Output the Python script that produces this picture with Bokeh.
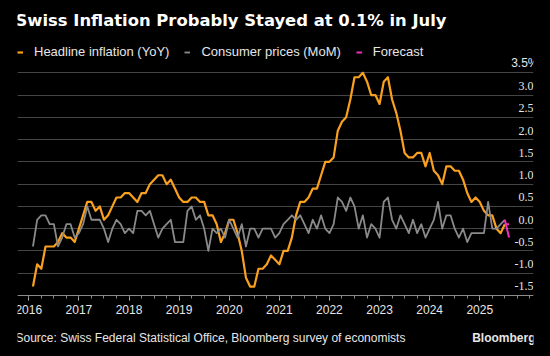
import pandas as pd
from bokeh.plotting import figure
from bokeh.models import (Range1d, FixedTicker, Grid, Legend, LegendItem,
                          ColumnDataSource, LabelSet, Label)
from bokeh.embed import file_html
from bokeh.resources import INLINE

# ---------------- data ----------------
title_text = "Swiss Inflation Probably Stayed at 0.1% in July"
source_text = "Source: Swiss Federal Statistical Office, Bloomberg survey of economists"
brand_text = "Bloomberg"

months = pd.period_range("2016-01", "2025-06", freq="M")

# Headline inflation, YoY %
yoy = [
    -1.3, -0.8, -0.9, -0.4, -0.4, -0.4, -0.3, -0.1, -0.2, -0.2, -0.3, 0.0,   # 2016
    0.3, 0.6, 0.6, 0.4, 0.5, 0.2, 0.3, 0.5, 0.7, 0.7, 0.8, 0.8,              # 2017
    0.7, 0.6, 0.8, 0.8, 1.0, 1.1, 1.2, 1.2, 1.0, 1.1, 0.9, 0.7,              # 2018
    0.6, 0.6, 0.7, 0.7, 0.6, 0.6, 0.3, 0.3, 0.1, -0.3, -0.1, 0.2,            # 2019
    0.2, -0.1, -0.5, -1.1, -1.3, -1.3, -0.9, -0.9, -0.8, -0.6, -0.7, -0.8,   # 2020
    -0.5, -0.5, -0.2, 0.3, 0.6, 0.6, 0.7, 0.9, 0.9, 1.2, 1.5, 1.5,           # 2021
    1.6, 2.2, 2.4, 2.5, 2.9, 3.4, 3.4, 3.5, 3.3, 3.0, 3.0, 2.8,              # 2022
    3.3, 3.4, 2.9, 2.6, 2.2, 1.7, 1.6, 1.6, 1.7, 1.7, 1.4, 1.7,              # 2023
    1.3, 1.2, 1.0, 1.4, 1.4, 1.3, 1.3, 1.1, 0.8, 0.6, 0.7, 0.6,              # 2024
    0.4, 0.3, 0.3, 0.0, -0.1, 0.1,                                           # 2025
]

# Consumer prices, MoM %
mom = [
    -0.4, 0.2, 0.3, 0.3, 0.1, 0.1, -0.4, -0.2, 0.1, 0.1, -0.2, -0.1,         # 2016
    0.1, 0.5, 0.2, 0.2, 0.2, 0.0, -0.3, 0.0, 0.2, 0.1, -0.1, 0.0,            # 2017
    -0.1, 0.4, 0.4, 0.3, 0.4, 0.1, -0.2, 0.0, 0.1, 0.2, -0.3, -0.3,          # 2018
    -0.3, 0.4, 0.5, 0.2, 0.3, 0.0, -0.5, 0.0, -0.1, 0.0, -0.2, 0.2,          # 2019
    0.0, -0.2, 0.1, -0.4, 0.0, 0.0, -0.2, 0.0, 0.0, 0.0, -0.2, -0.1,         # 2020
    0.1, 0.2, 0.3, 0.2, 0.3, 0.1, -0.1, 0.2, 0.0, 0.3, 0.0, -0.1,            # 2021
    0.1, 0.7, 0.6, 0.4, 0.7, 0.5, 0.0, 0.3, -0.2, 0.1, 0.0, -0.2,            # 2022
    0.6, 0.7, 0.2, 0.0, 0.3, 0.1, -0.1, 0.2, -0.1, 0.1, -0.2, 0.0,           # 2023
    0.2, 0.6, 0.0, 0.3, 0.3, 0.0, -0.2, 0.0, -0.3, -0.1, -0.1, -0.1,         # 2024
    -0.1, 0.6, 0.0, 0.0, 0.1, 0.2,                                           # 2025
]

forecast_months = pd.period_range("2025-06", "2025-07", freq="M")
forecast_yoy = [0.1, 0.1]
forecast_mom = [0.2, -0.2]

year_ticks = list(range(2016, 2026))
y_ticks = [-1.5, -1.0, -0.5, 0.0, 0.5, 1.0, 1.5, 2.0, 2.5, 3.0, 3.5]
y_tick_labels = ["-1.5", "-1.0", "-0.5", "0.0", "0.5", "1.0", "1.5", "2.0", "2.5", "3.0", "3.5%"]

legend_labels = ["Headline inflation (YoY)", "Consumer prices (MoM)", "Forecast"]

# ---------------- styling ----------------
BG = "#000000"
ORANGE = "#F9A01E"
GRAY = "#8A8A8A"
PINK = "#F02FC2"
GRID = "#444444"
TXT = "#E6E6E6"
FONT = "Liberation Sans"
W, H = 550, 356
BORDER_X = 17


def to_x(periods):
    # monthly observations plotted at month end, as decimal years
    return [per.year + per.month / 12 for per in periods]


x_main = to_x(months)
x_fc = to_x(forecast_months)

X0, X1 = 2015.7745, 2026.072
Y0, Y1 = -2.870, 5.123
px_per_unit = H / (Y1 - Y0)

p = figure(width=W, height=H, output_backend="svg", toolbar_location=None,
           title=None, x_range=Range1d(X0, X1), y_range=Range1d(Y0, Y1),
           y_axis_location=None, background_fill_color=BG,
           border_fill_color=BG, outline_line_color=None,
           min_border_left=BORDER_X, min_border_right=BORDER_X,
           min_border_top=0, min_border_bottom=0)

# grid (horizontal only)
for g in p.xgrid:
    g.visible = False
for g in p.ygrid:
    g.visible = False
p.add_layout(Grid(dimension=1, ticker=FixedTicker(ticks=y_ticks),
                  grid_line_color=GRID, grid_line_width=1))

# x axis, pinned to the bottom gridline
minor = [y + q / 4 for y in range(2015, 2027) for q in range(4)]
ax = p.xaxis[0]
ax.fixed_location = y_ticks[0]
ax.ticker = FixedTicker(ticks=year_ticks, minor_ticks=minor)
ax.axis_line_color = "#8a8a8a"
ax.major_tick_line_color = "#bbbbbb"
ax.minor_tick_line_color = "#8a8a8a"
ax.major_tick_in = 0
ax.major_tick_out = 5
ax.minor_tick_in = 0
ax.minor_tick_out = 3
ax.major_label_standoff = 5
ax.major_label_text_color = TXT
ax.major_label_text_font = FONT
ax.major_label_text_font_size = "12px"

# lines
r_yoy = p.line(x_main, yoy, line_color=ORANGE, line_width=2.2, line_join="round")
r_mom = p.line(x_main, mom, line_color=GRAY, line_width=1.8, line_join="round")
r_fc1 = p.line(x_fc, forecast_yoy, line_color=PINK, line_width=2)
r_fc2 = p.line(x_fc, forecast_mom, line_color=PINK, line_width=2)

# y tick labels sit above their gridlines at the right edge
lab_src = ColumnDataSource(dict(y=y_ticks[:-1], text=y_tick_labels[:-1]))
p.add_layout(LabelSet(x=X1, y="y", text="text", source=lab_src,
                      text_align="right", text_baseline="alphabetic",
                      y_offset=5, text_color=TXT, text_font=FONT,
                      text_font_size="12px"))
# top label with the unit, allowed to run past the right edge
frame_w = W - 2 * BORDER_X
p.add_layout(Label(x=frame_w + 5, y=(y_ticks[-1] - Y0) * px_per_unit + 10,
                   x_units="screen", y_units="screen", text=y_tick_labels[-1],
                   text_align="right", text_baseline="middle",
                   text_color=TXT, text_font=FONT, text_font_size="12px"))

# title
p.add_layout(Label(x=-2, y=336, x_units="screen", y_units="screen",
                   text=title_text, text_font="DejaVu Sans",
                   text_font_style="bold", text_font_size="16.4px",
                   text_color="#FFFFFF", text_baseline="middle"))

# legend
legend = Legend(items=[LegendItem(label=legend_labels[0], renderers=[r_yoy]),
                       LegendItem(label=legend_labels[1], renderers=[r_mom]),
                       LegendItem(label=legend_labels[2], renderers=[r_fc1])],
                orientation="horizontal", location=(0, 297),
                background_fill_alpha=0, border_line_color=None,
                padding=0, margin=0, spacing=15, glyph_width=6,
                glyph_height=14, label_height=14, label_standoff=11,
                label_text_color=TXT, label_text_font=FONT,
                label_text_font_size="13px", label_text_baseline="middle")
p.add_layout(legend)

# footer
p.add_layout(Label(x=-2, y=19, x_units="screen", y_units="screen",
                   text=source_text, text_font=FONT, text_font_size="12px",
                   text_color=TXT, text_baseline="middle"))
p.add_layout(Label(x=frame_w + 2, y=19, x_units="screen", y_units="screen",
                   text=brand_text, text_font=FONT, text_font_size="12px",
                   text_font_style="bold", text_color=TXT, text_align="right",
                   text_baseline="middle"))

html = file_html(p, INLINE, title="Swiss inflation")
html = html.replace("<body>", '<body style="background-color:#000000;">')
open("out.html", "w").write(html)
